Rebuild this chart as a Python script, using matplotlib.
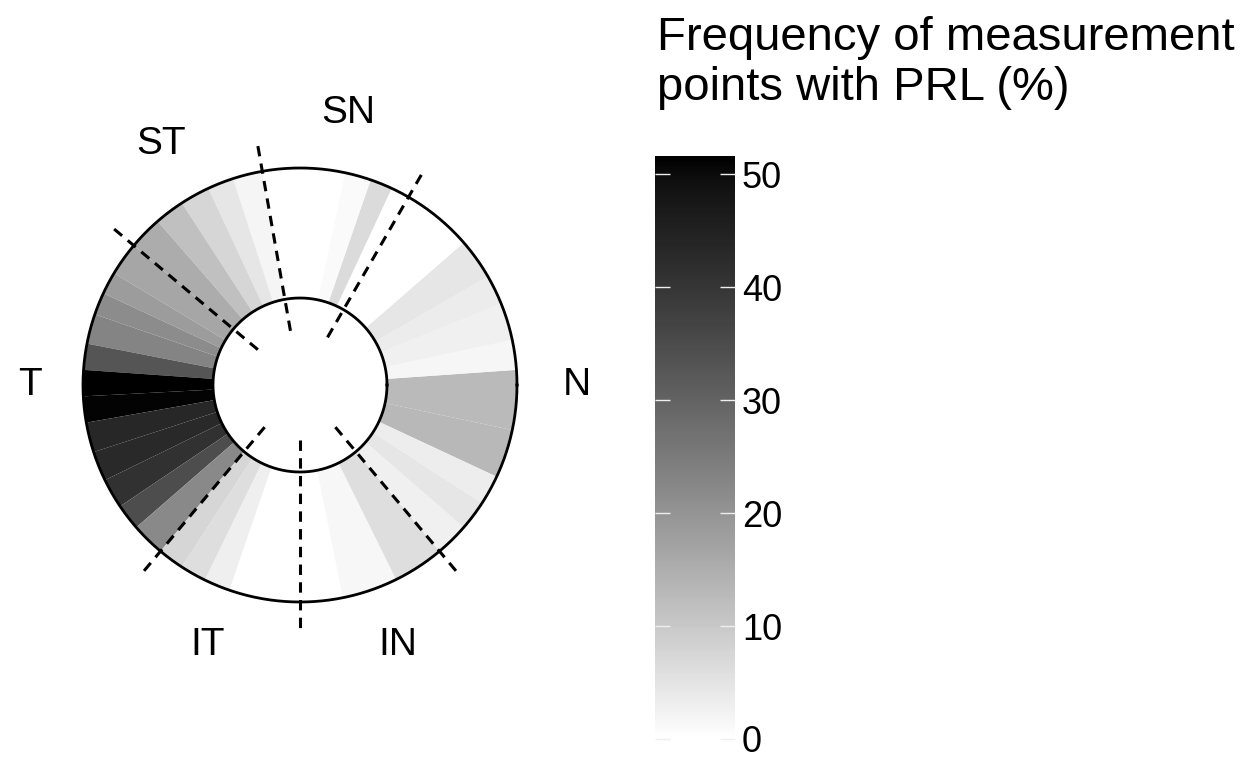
import numpy as np
import matplotlib
matplotlib.use("Agg")
import matplotlib.pyplot as plt
from matplotlib.colors import ListedColormap, Normalize
from matplotlib.cm import ScalarMappable

plt.rcParams['font.family'] = ['Liberation Sans', 'DejaVu Sans']

# ---- data: wedges of the ring (degrees, counter-clockwise from east) ----
wedge_start = [-25, -12, 4, 12, 22, 30, 41, 65, 71, 78, 100, 108, 115, 123, 131,
               140, 149, 155, 161, 169, 176, 183, 190, 198, 206, 214, 221,
               230, 237, 244, 251, 281.4, 296.3, 310, 319, 327]
wedge_end = wedge_start[1:] + [335]
wedge_value = [13.0, 12.5, 1.8, 2.7, 3.6, 4.5, 0.0, 6.5, 1.0, 0.0, 2.0, 4.5, 7.5, 11.5, 15.5,
               16.5, 18.5, 21.5, 23.0, 33.0, 51.6, 51.0, 43.5, 43.0, 41.0, 34.5, 22.0,
               7.5, 6.0, 3.0, 0.0, 1.5, 6.0, 2.7, 4.5, 3.3]

# sector boundaries (dashed lines) and labels
boundary_deg = [140, 100, 60, -50, -90, -130]
sector_labels = ["T", "ST", "SN", "N", "IN", "IT"]
label_deg = [180, 120, 80, 0, -69.4, -109.5]
label_r = [270, 278, 276, 277, 278, 276]

cbar_ticks = [0, 10, 20, 30, 40, 50]
vmin, vmax = 0.0, 51.6
legend_title = "Frequency of measurement\npoints with PRL (%)"

# ---- white -> black colormap interpolated in CIELAB lightness ----
t = np.linspace(0, 1, 256)
L = 100 * (1 - t)
Y = np.where(L > 8, ((L + 16) / 116) ** 3, L / 903.3)
s = np.where(Y <= 0.0031308, 12.92 * Y, 1.055 * Y ** (1 / 2.4) - 0.055)
s = np.clip(s, 0, 1)
cmap = ListedColormap(np.column_stack([s, s, s]))
norm = Normalize(vmin=vmin, vmax=vmax)

W, H = 1252, 762
fig = plt.figure(figsize=(W / 100, H / 100), dpi=100)

# ---- ring ----
R_IN, R_OUT = 87, 217
cx, cy = 300, 385
ax = fig.add_axes([(cx - 300) / W, (H - cy - 300) / H, 600 / W, 600 / H], projection='polar')
ax.set_ylim(0, 300)
ax.set_axis_off()

starts = np.deg2rad(wedge_start)
ends = np.deg2rad(wedge_end)
widths = ends - starts
ax.bar(starts, R_OUT - R_IN, width=widths, bottom=R_IN, align='edge',
       color=cmap(norm(np.array(wedge_value))), edgecolor='none', linewidth=0)

circ = np.linspace(0, 2 * np.pi, 721)
ax.plot(circ, np.full_like(circ, R_OUT), color='black', lw=2.0)
ax.plot(circ, np.full_like(circ, R_IN), color='black', lw=2.0)

for b in boundary_deg:
    th = np.deg2rad(b)
    ax.plot([th, th], [55, 249], color='black', lw=2.2,
            linestyle=(0, (3.4, 2.4)), dash_capstyle='butt')

for lab, d, r in zip(sector_labels, label_deg, label_r):
    ax.text(np.deg2rad(d), r, lab, ha='center', va='center', fontsize=28)

# ---- colour bar ----
cb_left, cb_right, cb_top = 655, 735, 156
cb_bottom = 739
cax = fig.add_axes([cb_left / W, (H - cb_bottom) / H, (cb_right - cb_left) / W,
                    (cb_bottom - cb_top) / H])
cb = fig.colorbar(ScalarMappable(norm=norm, cmap=cmap), cax=cax)
cb.outline.set_visible(False)
cb.set_ticks(cbar_ticks)
cax.tick_params(axis='y', direction='in', length=11, width=1.0, color='#eeeeee',
                left=True, right=True, labelleft=False, labelright=True,
                labelsize=26, pad=5)

fig.text(657 / W, 1 - 16 / H, legend_title, ha='left', va='top', fontsize=34,
         linespacing=1.18)

fig.savefig("out.png", dpi=100)
